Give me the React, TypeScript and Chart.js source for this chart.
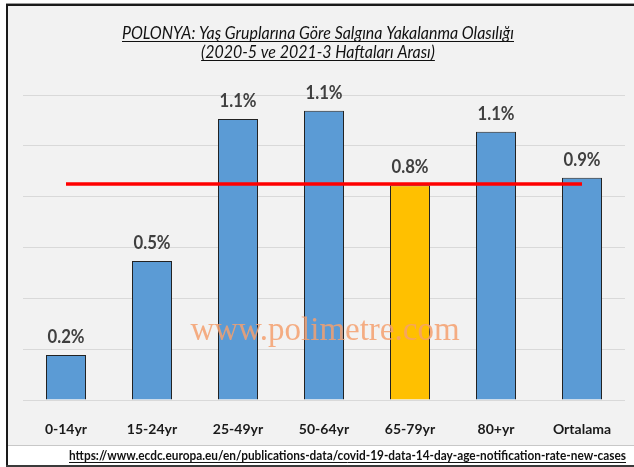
import React, { useEffect, useRef } from "react";
import { Chart, registerables } from "chart.js";

Chart.register(...registerables);

const categories = ["0-14yr", "15-24yr", "25-49yr", "50-64yr", "65-79yr", "80+yr", "Ortalama"];
const values = [0.177, 0.547, 1.106, 1.138, 0.845, 1.055, 0.874];
const highlightIndex = 4;
const averageLine = [0.85, 0.85, 0.85, 0.85, 0.85, 0.85, 0.85];
const titleLines = [
  "POLONYA: Yaş Gruplarına Göre Salgına Yakalanma Olasılığı",
  "(2020-5 ve 2021-3 Haftaları Arası)",
];
const watermark = "www.polimetre.com";
const sourceUrl = "https://www.ecdc.europa.eu/en/publications-data/covid-19-data-14-day-age-notification-rate-new-cases";
const yMax = 1.2;
const yStep = 0.2;

const BLUE = "#5b9bd5";
const GOLD = "#ffc000";

function drawFitted(ctx: CanvasRenderingContext2D, text: string, cx: number, y: number, sx: number, underline: boolean, color: string) {
  const w = ctx.measureText(text).width * sx;
  ctx.save();
  ctx.translate(cx, y);
  ctx.scale(sx, 1);
  ctx.fillStyle = color;
  ctx.textAlign = "center";
  ctx.textBaseline = "alphabetic";
  ctx.fillText(text, 0, 0);
  ctx.restore();
  if (underline) {
    ctx.save();
    ctx.strokeStyle = color;
    ctx.lineWidth = 1;
    ctx.beginPath();
    ctx.moveTo(cx - w / 2, y + 2.5);
    ctx.lineTo(cx + w / 2, y + 2.5);
    ctx.stroke();
    ctx.restore();
  }
}

const framePlugin = {
  id: "frame",
  beforeDraw(chart: any) {
    const ctx = chart.ctx as CanvasRenderingContext2D;
    const W = chart.width, H = chart.height;
    ctx.save();
    ctx.fillStyle = "#ffffff";
    ctx.fillRect(0, 0, W, H);
    ctx.fillStyle = "#f2f2f2";
    ctx.fillRect(8, 6, W - 8, 440);
    ctx.fillStyle = "#9a9a9a";
    ctx.fillRect(6, 3, W - 6, 1);
    ctx.fillStyle = "#1a1a1a";
    ctx.fillRect(6, 4, W - 6, 2);
    ctx.fillRect(6, 4, 2, H - 4);
    ctx.fillStyle = "#c8c8c8";
    ctx.fillRect(8, 445, W - 8, 1);
    ctx.fillStyle = "#ffffff";
    ctx.fillRect(8, 446, W - 8, 19);
    ctx.fillStyle = "#3a3a3a";
    ctx.fillRect(6, 465, W - 6, 2);
    ctx.restore();
  },
  afterDatasetsDraw(chart: any) {
    const ctx = chart.ctx as CanvasRenderingContext2D;
    const meta = chart.getDatasetMeta(1);
    ctx.save();
    ctx.font = "bold 18px Lato";
    ctx.fillStyle = "#404040";
    ctx.textBaseline = "alphabetic";
    meta.data.forEach((bar: any, i: number) => {
      const t = values[i].toFixed(1) + "%";
      const w = ctx.measureText(t).width;
      ctx.save();
      ctx.translate(bar.x, bar.y - 12);
      ctx.scale(0.93, 1);
      ctx.textAlign = "center";
      ctx.fillText(t, 0, 0);
      ctx.restore();
    });
    ctx.restore();
  },
  afterDraw(chart: any) {
    const ctx = chart.ctx as CanvasRenderingContext2D;
    ctx.save();
    ctx.font = "33px 'Liberation Serif'";
    ctx.fillStyle = "rgba(244,160,110,0.85)";
    ctx.textAlign = "center";
    ctx.textBaseline = "alphabetic";
    ctx.fillText(watermark, 325, 340);
    ctx.restore();
    ctx.save();
    ctx.font = "italic 17px Lato";
    const sx = 392 / ctx.measureText(titleLines[0]).width;
    drawFitted(ctx, titleLines[0], 318, 39, sx, true, "#111111");
    drawFitted(ctx, titleLines[1], 318, 58, sx, true, "#111111");
    ctx.restore();
    ctx.save();
    ctx.font = "bold 12.5px Lato";
    const su = 557 / ctx.measureText(sourceUrl).width;
    drawFitted(ctx, sourceUrl, 347.5, 460, su, true, "#111111");
    ctx.restore();
  },
};

export default function App() {
  const ref = useRef<HTMLCanvasElement | null>(null);
  useEffect(() => {
    if (!ref.current) return;
    const chart = new Chart(ref.current, {
      type: "bar",
      data: {
        labels: categories,
        datasets: [
          {
            type: "line",
            data: averageLine,
            borderColor: "#ff0000",
            borderWidth: 3.5,
            pointRadius: 0,
            fill: false,
            order: 0,
          } as any,
          {
            type: "bar",
            data: values,
            backgroundColor: values.map((_, i) => (i === highlightIndex ? GOLD : BLUE)),
            borderColor: "#222222",
            borderWidth: 1,
            barPercentage: 0.465,
            categoryPercentage: 1,
            order: 1,
          },
        ],
      },
      options: {
        responsive: false,
        animation: false,
        layout: { padding: { left: 23, right: 9, top: 95, bottom: 0 } },
        plugins: {
          legend: { display: false },
          title: { display: false },
          tooltip: { enabled: false },
        },
        scales: {
          x: {
            grid: { display: false },
            border: { display: false },
            ticks: {
              color: "#1a1a1a",
              font: { family: "Lato", size: 14, weight: "bold" },
              padding: 13,
            },
            afterFit(scale: any) {
              scale.height = 67;
            },
          },
          y: {
            min: 0,
            max: yMax,
            ticks: { display: false, stepSize: yStep },
            grid: { color: "#d9d9d9", lineWidth: 1, drawTicks: false },
            border: { display: false },
            afterFit(scale: any) {
              scale.width = 0;
            },
          },
        },
      },
      plugins: [framePlugin],
    });
    return () => chart.destroy();
  }, []);
  return (
    <div style={{ position: "fixed", left: 0, top: 0, width: 634, height: 467 }}>
      <canvas ref={ref} width={634} height={467} style={{ display: "block", width: 634, height: 467 }} />
    </div>
  );
}
